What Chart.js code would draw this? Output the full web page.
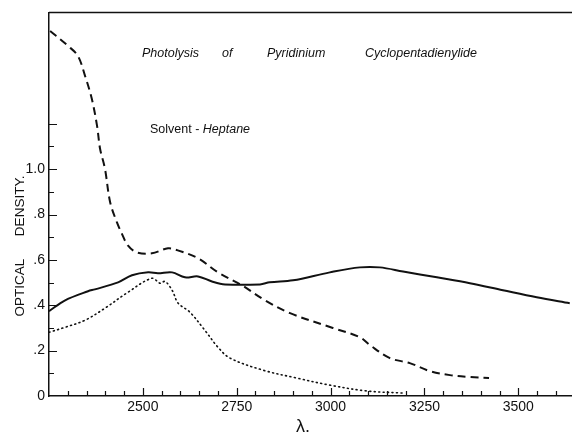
<!DOCTYPE html>
<html>
<head>
<meta charset="utf-8">
<script src="https://cdn.jsdelivr.net/npm/chart.js@4.4.1/dist/chart.umd.min.js"></script>
<style>
  html, body { margin: 0; padding: 0; background: #fff; }
  canvas { display: block; }
</style>
</head>
<body>
<canvas id="myChart" width="572" height="435"></canvas>
<script>
// dashed curve
const dashedLambda = [2253, 2301, 2327, 2346, 2364, 2378, 2386, 2399, 2413, 2431, 2444, 2460, 2484, 2524, 2567, 2593, 2647, 2700, 2764, 2825, 2892, 3006, 3078, 3105, 3158, 3211, 3264, 3318, 3371, 3422];
const dashedOD     = [1.609, 1.543, 1.499, 1.411, 1.310, 1.191, 1.090, 1.002, 0.853, 0.765, 0.716, 0.664, 0.633, 0.629, 0.651, 0.642, 0.607, 0.545, 0.488, 0.422, 0.365, 0.300, 0.259, 0.224, 0.167, 0.145, 0.110, 0.092, 0.084, 0.079];

// solid curve
const solidLambda = [2250, 2293, 2354, 2372, 2434, 2471, 2514, 2540, 2578, 2612, 2647, 2684, 2719, 2812, 2838, 2900, 2998, 3078, 3131, 3193, 3283, 3371, 3459, 3549, 3637];
const solidOD     = [0.374, 0.422, 0.462, 0.470, 0.501, 0.532, 0.545, 0.541, 0.545, 0.523, 0.527, 0.505, 0.492, 0.492, 0.501, 0.510, 0.545, 0.567, 0.567, 0.549, 0.523, 0.497, 0.466, 0.435, 0.409];

// dotted curve
const dottedLambda = [2250, 2293, 2346, 2399, 2460, 2524, 2546, 2559, 2578, 2594, 2625, 2665, 2700, 2732, 2820, 2910, 2998, 3097, 3193];
const dottedOD     = [0.281, 0.303, 0.334, 0.387, 0.457, 0.519, 0.497, 0.505, 0.466, 0.409, 0.370, 0.290, 0.215, 0.167, 0.114, 0.079, 0.048, 0.022, 0.013];

const xTickValues = [2500, 2750, 3000, 3250, 3500];
const yTickValues = [0, 0.2, 0.4, 0.6, 0.8, 1.0];
const yTickLabels = ['0', '.2', '.4', '.6', '.8', '1.0'];

const ink = '#111';
const FONT = '"Liberation Sans", Arial, sans-serif';

function pts(xs, ys){ return xs.map((x, i) => ({x: x, y: ys[i]})); }

// inward ticks, top frame line, annotations
const paperPlugin = {
  id: 'paper',
  afterDraw(chart){
    const ctx = chart.ctx, a = chart.chartArea;
    const xs = chart.scales.x, ys = chart.scales.y;
    ctx.save();
    ctx.strokeStyle = ink;
    ctx.lineWidth = 1.2;
    ctx.beginPath();
    for (let v = 2300; v <= 3640; v += 50){
      const px = Math.round(xs.getPixelForValue(v)) + 0.5;
      const len = v % 250 === 0 ? 8 : 5;
      ctx.moveTo(px, a.bottom); ctx.lineTo(px, a.bottom - len);
    }
    for (let k = 1; k <= 12; k++){
      const py = Math.round(ys.getPixelForValue(k / 10)) + 0.5;
      const len = k % 2 === 0 ? 8 : 5;
      ctx.moveTo(a.left, py); ctx.lineTo(a.left + len, py);
    }
    ctx.stroke();
    ctx.lineWidth = 1.5;
    ctx.beginPath();
    ctx.moveTo(a.left, a.top); ctx.lineTo(a.right, a.top);
    ctx.stroke();

    ctx.fillStyle = ink;
    ctx.textBaseline = 'alphabetic';
    ctx.textAlign = 'left';
    ctx.font = 'italic 12.5px ' + FONT;
    ctx.fillText('Photolysis', 142, 57);
    ctx.fillText('of', 222, 57);
    ctx.fillText('Pyridinium', 267, 57);
    ctx.fillText('Cyclopentadienylide', 365, 57);

    ctx.font = '12.5px ' + FONT;
    ctx.fillText('Solvent - ', 150, 133);
    const w = ctx.measureText('Solvent - ').width;
    ctx.font = 'italic 12.5px ' + FONT;
    ctx.fillText('Heptane', 150 + w, 133);

    ctx.font = '18px ' + FONT;
    ctx.textAlign = 'center';
    ctx.fillText('\u03bb.', 303, 432);

    ctx.translate(20, 246);
    ctx.rotate(-Math.PI / 2);
    ctx.font = '13.5px ' + FONT;
    ctx.textBaseline = 'middle';
    ctx.fillText('OPTICAL      DENSITY.', 0, 0);
    ctx.restore();
  }
};

const data = {
  datasets: [
    { label: 'dashed', data: pts(dashedLambda, dashedOD), borderColor: ink, borderWidth: 2, borderDash: [8, 5], pointRadius: 0, tension: 0.35, fill: false },
    { label: 'solid', data: pts(solidLambda, solidOD), borderColor: ink, borderWidth: 2, pointRadius: 0, tension: 0.35, fill: false },
    { label: 'dotted', data: pts(dottedLambda, dottedOD), borderColor: ink, borderWidth: 1.6, borderDash: [1, 3.5], borderCapStyle: 'round', pointRadius: 0, tension: 0.35, fill: false }
  ]
};

const config = {
  type: 'line',
  data,
  options: {
    responsive: false,
    animation: false,
    devicePixelRatio: 1,
    layout: { padding: { left: 0, top: 11, right: 0, bottom: 0 } },
    plugins: { legend: { display: false }, tooltip: { enabled: false } },
    scales: {
      x: {
        type: 'linear', min: 2250, max: 3643,
        afterBuildTicks(scale){ scale.ticks = xTickValues.map(v => ({value: v})); },
        afterFit(scale){ scale.height = 39; },
        grid: { drawOnChartArea: false, drawTicks: false },
        border: { display: true, color: ink, width: 1.5 },
        ticks: { color: ink, padding: 3, maxRotation: 0, autoSkip: false, font: { family: FONT, size: 14 }, callback: v => String(v) }
      },
      y: {
        type: 'linear', min: 0, max: 1.691,
        afterBuildTicks(scale){ scale.ticks = yTickValues.map(v => ({value: v})); },
        afterFit(scale){ scale.width = 49; },
        grid: { drawOnChartArea: false, drawTicks: false },
        border: { display: true, color: ink, width: 1.5 },
        ticks: { color: ink, padding: 4, autoSkip: false, font: { family: FONT, size: 14 }, callback: (v, i) => yTickLabels[i] }
      }
    }
  },
  plugins: [paperPlugin]
};

let chart = new Chart(document.getElementById('myChart'), config);
</script>
</body>
</html>
